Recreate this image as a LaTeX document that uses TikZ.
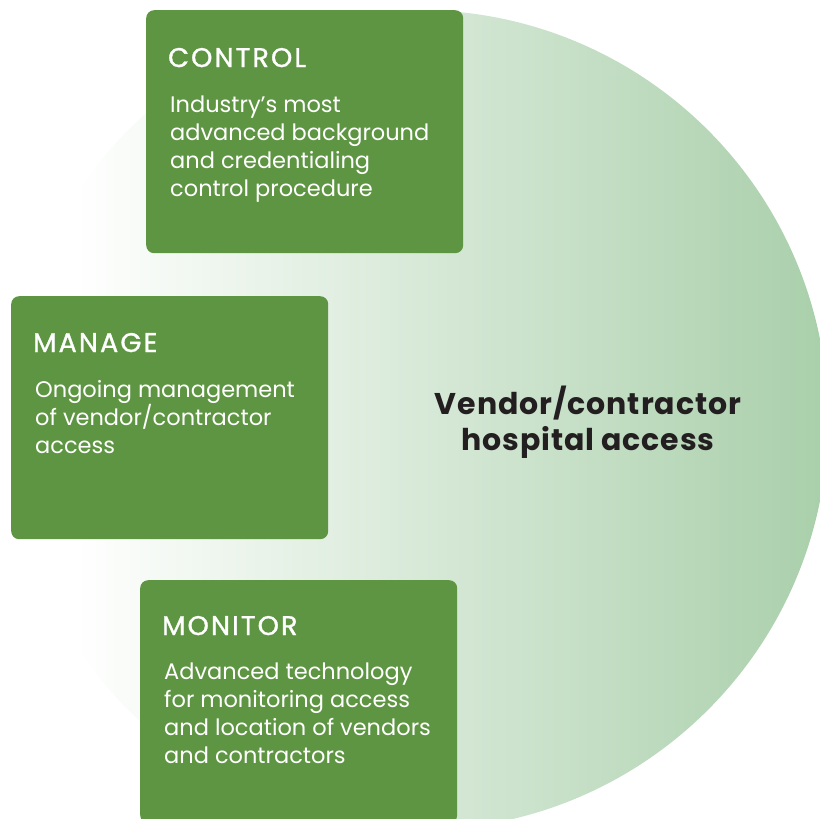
\documentclass[tikz,border=0pt]{standalone}
\usepackage{fontspec}
\setmainfont{Poppins}
\newfontfamily\titlefont[LetterSpace=8, FakeBold=1.2]{Poppins}
\newfontfamily\hubfont[LetterSpace=3]{Poppins}
\usetikzlibrary{positioning}
\definecolor{cardgreen}{HTML}{5E9542}
\definecolor{ringgreen}{HTML}{A9CFAA}
\definecolor{hubtext}{HTML}{231F20}
\pgfdeclarehorizontalshading{discfade}{100bp}{color(0bp)=(white); color(29bp)=(white);
    color(75bp)=(ringgreen); color(100bp)=(ringgreen)}

\begin{document}
\begin{tikzpicture}[
        x=1pt, y=-1pt,
        card/.style={fill=cardgreen, rounded corners=8pt, anchor=north west,
            minimum width=317pt, minimum height=243pt, inner sep=0pt},
        cardtitle/.style={text=white, anchor=base west, inner sep=0pt,
            font=\titlefont\fontsize{27}{28}\selectfont},
        cardbody/.style={text=white, anchor=base west, inner sep=0pt, align=left,
            font=\fontsize{22.5}{27.9}\selectfont}
    ]
    \useasboundingbox (0,0) rectangle (820,819);
    \clip (0,0) rectangle (820,819);

    % Background disc
    \shade[shading=discfade] (418,420) circle[radius=410pt];

    % Cards
    \node[card] (control) at (146,10) {};
    \node[card] (manage) at (11,296) {};
    \node[card] (monitor) at (140,580) {};

    % Card texts (body nodes sit on their last line)
    \node[cardtitle] (controltitle) at ([shift={(22,57)}]control.north west) {CONTROL};
    \node[cardbody] (controlbody) at ([shift={(24,186)}]control.north west)
        {Industry’s most\\advanced background\\and credentialing\\control procedure};

    \node[cardtitle] (managetitle) at ([shift={(22,56)}]manage.north west) {MANAGE};
    \node[cardbody] (managebody) at ([shift={(24,157)}]manage.north west)
        {Ongoing management\\of vendor/contractor\\access};

    \node[cardtitle] (monitortitle) at ([shift={(22,55)}]monitor.north west) {MONITOR};
    \node[cardbody] (monitorbody) at ([shift={(24,183)}]monitor.north west)
        {Advanced technology\\for monitoring access\\and location of vendors\\and contractors};

    % Centre label
    \node[text=hubtext, align=center, font=\hubfont\fontsize{30}{36}\selectfont\bfseries] (hub) at (588,422)
        {Vendor/contractor\\hospital access};
\end{tikzpicture}
\end{document}
